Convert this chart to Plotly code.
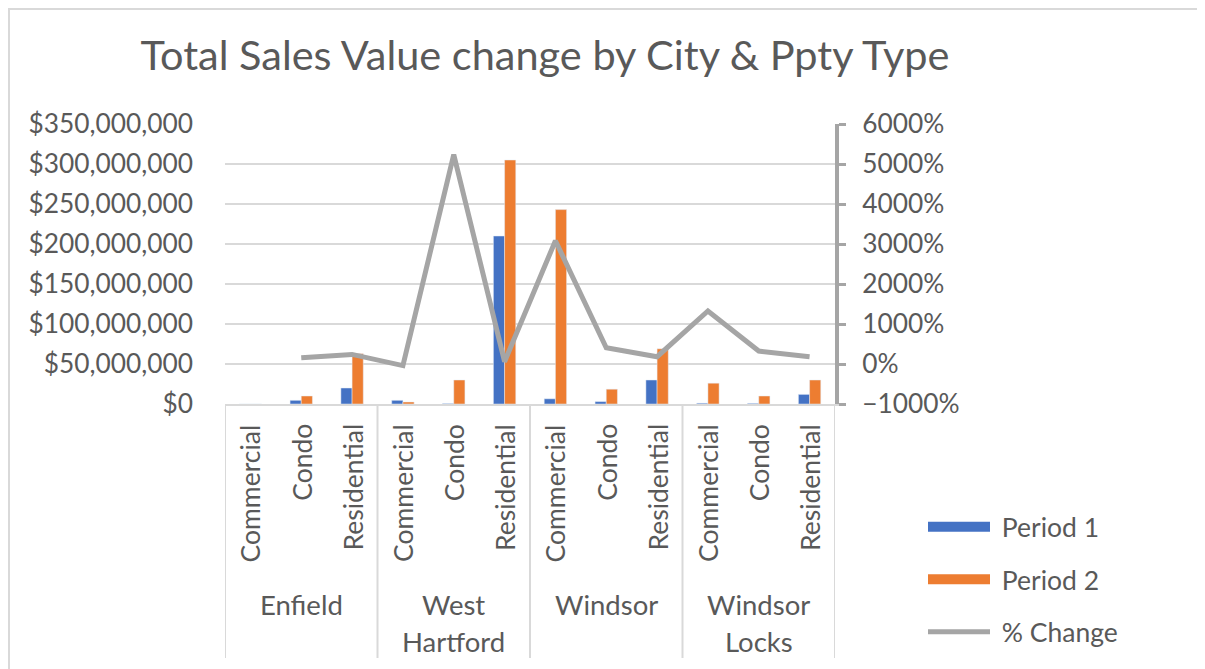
import plotly.graph_objects as go

# ---- data ----
cities = ["Enfield", "West<br>Hartford", "Windsor", "Windsor<br>Locks"]
ptypes = ["Commercial", "Condo", "Residential"]
period1 = [0, 4.6e6, 20e6, 4.6e6, 0.6e6, 210e6, 6.5e6, 3.0e6, 30e6, 1.0e6, 0.8e6, 12e6]
period2 = [0, 10e6, 63e6, 2.5e6, 30e6, 305e6, 243e6, 18.5e6, 69e6, 26e6, 10e6, 30e6]
pct_change = [None, 157, 240, -41, 5236, 58, 3082, 406, 182, 1326, 323, 182]
series_names = ["Period 1", "Period 2", "% Change"]

FONT = "Lato"
TXT = "#595959"
GRID = "#D9D9D9"
BLUE = "#4472C4"
ORANGE = "#ED7D31"
GRAY = "#A5A5A5"

OFF = 8  # page body margin
# plot area in screen pixels
L, R, T, B = 225, 835, 124, 404
W, H = 1205, 669
PW, PH = R - L, B - T

def px_x(p):
    return (p - L) / PW

def px_y(p):
    return (B - p) / PH

n = len(period1)
xs = list(range(n))

fig = go.Figure()
fig.add_trace(go.Bar(x=xs, y=period1, name=series_names[0], marker_color=BLUE,
                     showlegend=False))
fig.add_trace(go.Bar(x=xs, y=period2, name=series_names[1], marker_color=ORANGE,
                     showlegend=False))
fig.add_trace(go.Scatter(x=xs, y=pct_change, name=series_names[2], mode="lines",
                         line=dict(color=GRAY, width=5), yaxis="y2",
                         connectgaps=False, showlegend=False))
# legend entries (wide rectangular swatches as in the reference)
NB = "\u00a0"
fig.add_trace(go.Scatter(x=[None], y=[None], name=NB + series_names[0], mode="lines",
                         line=dict(color=BLUE, width=15), legendgroup="a"))
fig.add_trace(go.Scatter(x=[None], y=[None], name=NB + series_names[1], mode="lines",
                         line=dict(color=ORANGE, width=15), legendgroup="b"))
fig.add_trace(go.Scatter(x=[None], y=[None], name=NB + series_names[2], mode="lines",
                         line=dict(color=GRAY, width=5), legendgroup="c"))

annotations = []
# inner category labels
for i in range(n):
    annotations.append(dict(
        x=i, xref="x", y=px_y(422), yref="paper", text=ptypes[i % 3],
        textangle=-90, showarrow=False, xanchor="center", yanchor="top",
        font=dict(family=FONT, size=26.5, color=TXT)))
# outer category labels (one annotation per text line)
for g, c in enumerate(cities):
    for k, part in enumerate(c.split("<br>")):
        annotations.append(dict(
            x=g * 3 + 1, xref="x", y=px_y(586 + 37 * k), yref="paper", text=part,
            showarrow=False, xanchor="center", yanchor="top",
            font=dict(family=FONT, size=27.5, color=TXT)))

shapes = []
for g in range(len(cities) + 1):
    xv = g * 3 - 0.5
    shapes.append(dict(type="line", xref="x", yref="paper", x0=xv, x1=xv,
                       y0=0, y1=px_y(658), line=dict(color=GRID, width=2)))
# chart border (top and left visible)
shapes.append(dict(type="rect", xref="paper", yref="paper",
                   x0=px_x(9), x1=px_x(1230), y0=px_y(700), y1=px_y(9),
                   line=dict(color=GRID, width=2), layer="below"))

fig.update_layout(
    width=W, height=H,
    margin=dict(l=L - OFF, r=W - R + OFF, t=T - OFF, b=H - B + OFF),
    paper_bgcolor="white", plot_bgcolor="white",
    font=dict(family=FONT, size=26, color=TXT),
    title=dict(text="Total Sales Value change by City &amp; Ppty Type",
               x=(545 - OFF) / W, xanchor="center", y=1 - (55 - OFF) / H,
               yanchor="middle",
               font=dict(family=FONT, size=41.5, color=TXT)),
    barmode="group", bargap=0.56, bargroupgap=0,
    xaxis=dict(range=[-0.5, n - 0.5], showticklabels=False, ticks="",
               showgrid=False, zeroline=False, showline=True,
               linecolor=GRID, linewidth=2),
    yaxis=dict(range=[0, 350e6], dtick=50e6, tickformat="$,.0f",
               showgrid=True, gridcolor=GRID, gridwidth=2, zeroline=False,
               showline=False, ticks="", ticklabelstandoff=31,
               tickfont=dict(family=FONT, size=26.3, color=TXT)),
    yaxis2=dict(range=[-1000, 6000], dtick=1000, ticksuffix="%",
                overlaying="y", side="right", showgrid=False, zeroline=False,
                showline=True, linecolor=GRAY, linewidth=4,
                ticks="outside", ticklen=7, tickwidth=3, tickcolor=GRAY,
                ticklabelstandoff=11,
                tickfont=dict(family=FONT, size=26.3, color=TXT)),
    legend=dict(x=px_x(923), xanchor="left", y=px_y(503), yanchor="top",
                font=dict(family=FONT, size=26.5, color=TXT),
                tracegroupgap=15, itemwidth=62, bgcolor="rgba(0,0,0,0)"),
    annotations=annotations, shapes=shapes,
)

fig.write_html("out.html")
